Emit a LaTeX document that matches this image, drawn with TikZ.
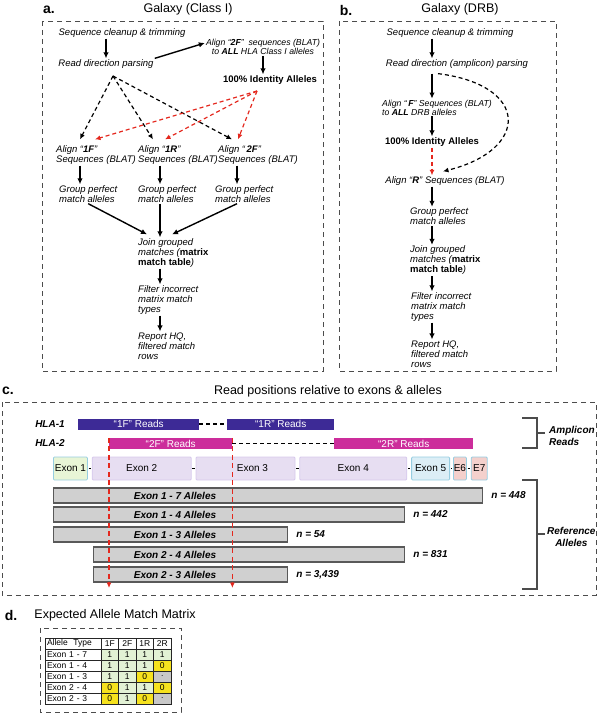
\documentclass[tikz,border=0pt]{standalone}
\usepackage{fontspec}
\setmainfont{Liberation Sans}
\usetikzlibrary{positioning,calc,arrows.meta}

\definecolor{readblue}{RGB}{61,42,150}
\definecolor{readpink}{RGB}{204,45,155}
\definecolor{cutred}{RGB}{228,40,30}
\definecolor{exlilac}{RGB}{231,222,242}
\definecolor{exlilacb}{RGB}{214,200,236}
\definecolor{exgreen}{RGB}{232,245,214}
\definecolor{excyan}{RGB}{220,238,246}
\definecolor{exedge}{RGB}{150,205,225}
\definecolor{expink}{RGB}{244,208,204}
\definecolor{allelegray}{RGB}{208,208,208}
\definecolor{mgreen}{RGB}{226,241,212}
\definecolor{myellow}{RGB}{246,226,30}
\definecolor{mgray}{RGB}{200,200,200}

\newcommand{\flowfont}{\fontsize{9.5}{10}\selectfont\itshape}
\newcommand{\smallflow}{\fontsize{8.7}{9}\selectfont\itshape}
\newcommand{\cellfont}{\fontsize{8.5}{9}\selectfont}

\tikzset{
  flow/.style={font=\flowfont, align=left, inner sep=1pt},
  hit/.style={font=\fontsize{9.5}{10}\selectfont\bfseries, inner sep=1pt},
  ttl/.style={font=\fontsize{12.5}{14}\selectfont},
  panel/.style={font=\fontsize{14}{16}\selectfont\bfseries},
  frame/.style={draw=gray!60!black, line width=0.8pt, dash pattern=on 5pt off 4pt},
  arr/.style={-{Latex[length=6pt,width=5.5pt]}, line width=1.4pt},
  darr/.style={-{Latex[length=5.5pt,width=5pt]}, line width=1.2pt, dash pattern=on 4pt off 3pt},
  rarr/.style={darr, cutred},
  lbl/.style={font=\fontsize{10}{12}\selectfont\bfseries\itshape, inner sep=1pt},
  rdbar/.style={minimum height=11pt, inner sep=0pt, text=white, anchor=west,
    font=\fontsize{10}{12}\selectfont},
  link/.style={line width=1.3pt, dash pattern=on 4pt off 3pt},
  exon/.style={rounded corners=1pt, minimum height=23pt, inner sep=0pt, anchor=west,
    line width=0.8pt, font=\fontsize{10}{12}\selectfont},
  intron/.style={line width=1.2pt, shorten <=0.8pt, shorten >=0.8pt},
  allele/.style={draw=black!65, fill=allelegray, line width=1.2pt, minimum height=15pt,
    inner sep=0pt, anchor=west},
  brk/.style={draw=gray!60!black, line width=1.2pt},
  mcell/.style={draw=black!85, line width=0.6pt, minimum width=17.5pt, minimum height=11pt,
    inner sep=0pt, font=\cellfont},
  rowhead/.style={draw=black!85, line width=0.6pt, text width=52pt, align=left,
    minimum height=11pt, inner xsep=2pt, inner ysep=0pt, font=\cellfont, fill=white},
  m1/.style={fill=mgreen, node contents=1},
  m0/.style={fill=myellow, node contents=0},
  md/.style={fill=mgray, node contents=.}
}

\begin{document}
\begin{tikzpicture}[x=1pt, y=-1pt]
  \useasboundingbox (0,0) rectangle (600,714);

  % titles
  \node[panel] (la) at (49,10) {a.};
  \node[ttl] (ta) at (188,9) {Galaxy (Class I)};
  \node[panel] (lb) at (346,10) {b.};
  \node[ttl] (tb) at (460,9) {Galaxy (DRB)};
  \node[panel] (lc) at (8,391) {c.};
  \node[ttl] (tc) at (328,391) {Read positions relative to exons \& alleles};
  \node[panel] (ld) at (11,615) {d.};
  \node[ttl] (td) at (115,615) {Expected Allele Match Matrix};

  \draw[frame] (42,21) rectangle (323,371);
  \draw[frame] (339,21) rectangle (556,371);
  \draw[frame] (2,402) rectangle (596,595);
  \draw[frame] (40,628) rectangle (181,712);

  % a. Galaxy (Class I)
  \coordinate (ac1) at (80,0);
  \coordinate (ac2) at (160,0);
  \coordinate (ac3) at (237,0);
  \node[flow] (aseq) at (122,33) {Sequence cleanup \& trimming};
  \node[flow] (aread) at (106,64) {Read direction parsing};
  \node[flow, align=center, font=\smallflow] (a2fall) at (263,47)
    {Align “\textbf{2F}”\ \ sequences (BLAT)\\to \textbf{ALL} HLA Class I alleles};
  \node[hit] (aid) at (270,80) {100\% Identity Alleles};
  \node[flow, anchor=west] (a1f) at (55,155) {Align “\textbf{1F}”\\Sequences (BLAT)};
  \node[flow, anchor=west] (a1r) at (137,155) {Align “\textbf{1R}”\\Sequences (BLAT)};
  \node[flow, anchor=west] (a2f) at (217,155) {Align “\,\textbf{2F}”\\Sequences (BLAT)};
  \node[flow, anchor=west] (ag1) at (58,194) {Group perfect\\match alleles};
  \node[flow, anchor=west] (ag2) at (137,194) {Group perfect\\match alleles};
  \node[flow, anchor=west] (ag3) at (214,194) {Group perfect\\match alleles};
  \node[flow, anchor=west] (ajoin) at (137,253)
    {Join grouped\\matches (\textbf{\upshape matrix}\\\textbf{\upshape match table})};
  \node[flow, anchor=west] (afilt) at (137,300) {Filter incorrect\\matrix match\\types};
  \node[flow, anchor=west] (arep) at (137,346) {Report HQ,\\filtered match\\rows};
  \coordinate (asplit) at (113,76);
  \coordinate (ahit) at (257,91);

  \draw[arr] (aseq.south -| aread) -- (aread.north);
  \draw[arr] (aread.north east) -- ($(a2fall.west)+(0,-4)$);
  \draw[arr] (a2fall.south) -- (a2fall.south |- aid.north);
  \draw[darr] (asplit) -- ($(a1f.north -| ac1)+(0,-5)$);
  \draw[darr] (asplit) -- ($(a1r.north -| ac2)+(-7,-5)$);
  \draw[darr] (asplit) -- ($(a2f.north -| ac3)+(-5,-5)$);
  \draw[rarr] (ahit) -- ($(a1f.north -| ac1)+(15,-5)$);
  \draw[rarr] (ahit) -- ($(a1r.north -| ac2)+(5,-5)$);
  \draw[rarr] (ahit) -- ($(a2f.north -| ac3)+(1,-5)$);
  \draw[arr] (a1f.south -| ac1) -- (ag1.north -| ac1);
  \draw[arr] (a1r.south -| ac2) -- (ag2.north -| ac2);
  \draw[arr] (a2f.south -| ac3) -- (ag3.north -| ac3);
  \draw[arr] (ag1.south) -- ($(ajoin.north west)+(10,-3)$);
  \draw[arr] (ag2.south -| ac2) -- (ajoin.north -| ac2);
  \draw[arr] (ag3.south -| ac3) -- ($(ajoin.north -| ac2)+(12,-3)$);
  \draw[arr] (ajoin.south -| ac2) -- (afilt.north -| ac2);
  \draw[arr] (afilt.south -| ac2) -- (arep.north -| ac2);

  % b. Galaxy (DRB)
  \coordinate (bc) at (432,0);
  \node[flow] (bseq) at (450,33) {Sequence cleanup \& trimming};
  \node[flow] (bread) at (457,64) {Read direction (amplicon) parsing};
  \node[flow, anchor=west, font=\smallflow] (balign) at (381,107.5)
    {Align “\,\textbf{F}” Sequences (BLAT)\\to \textbf{ALL} DRB alleles};
  \node[hit] (bid) at (432,142) {100\% Identity Alleles};
  \node[flow] (balr) at (445,181) {Align “\textbf{R}” Sequences (BLAT)};
  \node[flow, anchor=west] (bgrp) at (409,216.5) {Group perfect\\match alleles};
  \node[flow, anchor=west] (bjoin) at (409,260.5)
    {Join grouped\\matches (\textbf{\upshape matrix}\\\textbf{\upshape match table})};
  \node[flow, anchor=west] (bfilt) at (410,307) {Filter incorrect\\matrix match\\types};
  \node[flow, anchor=west] (brep) at (410,354) {Report HQ,\\filtered match\\rows};

  \draw[arr] (bseq.south -| bc) -- (bread.north -| bc);
  \draw[arr] ($(bread.south -| bc)+(0,4)$) -- (balign.north -| bc);
  \draw[arr] (balign.south -| bc) -- (bid.north -| bc);
  \draw[rarr] (bid.south -| bc) -- (balr.north -| bc);
  \draw[darr] ($(bread.south)+(-19,4)$) .. controls (530,85) and (530,150) .. ($(balr.north)+(-2,-4)$);
  \draw[arr] (balr.south -| bc) -- (bgrp.north -| bc);
  \draw[arr] (bgrp.south -| bc) -- (bjoin.north -| bc);
  \draw[arr] (bjoin.south -| bc) -- (bfilt.north -| bc);
  \draw[arr] (bfilt.south -| bc) -- (brep.north -| bc);

  % c. reads, exons, alleles
  \node[lbl] (hla1) at (50,424) {HLA-1};
  \node[lbl] (hla2) at (50,443.5) {HLA-2};
  \node[rdbar, fill=readblue, minimum width=121pt] (r1f) at (78,424) {“1F” Reads};
  \node[rdbar, fill=readblue, minimum width=107pt] (r1r) at (227,424) {“1R” Reads};
  \node[rdbar, fill=readpink, minimum width=123pt] (r2f) at (109,443.5) {“2F” Reads};
  \node[rdbar, fill=readpink, minimum width=139pt] (r2r) at (334,443.5) {“2R” Reads};
  \draw[link] (r1f.east) -- (r1r.west);
  \draw[link] (r2f.east) -- (r2r.west);

  \node[exon, fill=exgreen, draw=exedge, minimum width=34pt] (ex1) at (53,468.5) {Exon 1};
  \node[exon, fill=exlilac, draw=exlilacb, minimum width=99pt, right=4pt of ex1] (ex2) {Exon 2};
  \node[exon, fill=exlilac, draw=exlilacb, minimum width=99pt, right=4pt of ex2] (ex3) {\hspace{14pt}Exon 3};
  \node[exon, fill=exlilac, draw=exlilacb, minimum width=107pt, right=4pt of ex3] (ex4) {Exon 4};
  \node[exon, fill=excyan, draw=exedge, minimum width=38pt, right=4pt of ex4] (ex5) {Exon 5};
  \node[exon, fill=expink, draw=exedge, minimum width=13pt, right=3pt of ex5] (ex6) {E6};
  \node[exon, fill=expink, draw=exedge, minimum width=16pt, right=4pt of ex6] (ex7) {E7};
  \draw[intron] (ex1.east) -- (ex2.west);
  \draw[intron] (ex2.east) -- (ex3.west);
  \draw[intron] (ex3.east) -- (ex4.west);
  \draw[intron] (ex4.east) -- (ex5.west);
  \draw[intron] (ex5.east) -- (ex6.west);
  \draw[intron] (ex6.east) -- (ex7.west);

  \node[allele, minimum width=429pt] (b17) at (53,495.5) {};
  \node[allele, minimum width=351pt] (b14) at (53,514.5) {};
  \node[allele, minimum width=234pt] (b13) at (53,534.5) {};
  \node[allele, minimum width=311pt] (b24) at (93,554.5) {};
  \node[allele, minimum width=194pt] (b23) at (93,574.5) {};
  \node[lbl] (l17) at (175,495.5) {Exon 1 - 7 Alleles};
  \node[lbl] (l14) at (175,514.5) {Exon 1 - 4 Alleles};
  \node[lbl] (l13) at (175,534.5) {Exon 1 - 3 Alleles};
  \node[lbl] (l24) at (175,554.5) {Exon 2 - 4 Alleles};
  \node[lbl] (l23) at (175,574.5) {Exon 2 - 3 Alleles};
  \node[lbl, right=7pt of b17] (n17) {n = 448};
  \node[lbl, right=7pt of b14] (n14) {n = 442};
  \node[lbl, right=7pt of b13] (n13) {n = 54};
  \node[lbl, right=7pt of b24] (n24) {n = 831};
  \node[lbl, right=7pt of b23] (n23) {n = 3,439};

  \coordinate (cbot) at (0,588);
  \draw[rarr, dash pattern=on 5pt off 3.5pt] (r2f.north west) -- (r2f.north west |- cbot);
  \draw[rarr, dash pattern=on 5pt off 3.5pt] (r2f.north east) -- (r2f.north east |- cbot);

  \draw[brk] (522,418) -- (537,418) -- (537,448) -- (522,448) (537,433) -- (545,433);
  \draw[brk] (522,480) -- (537,480) -- (537,589) -- (522,589) (537,534) -- (545,534);
  \node[lbl, align=left, anchor=west] (amp) at (548,436) {Amplicon\\Reads};
  \node[lbl, align=center, anchor=west] (refal) at (546,537) {Reference\\Alleles};

  % d. match matrix
  \node[rowhead] (hdr) at (73,643.5) {Allele~~Type};
  \foreach \h [count=\c] in {1F,2F,1R,2R}
    \node[mcell, fill=white] (h\c) at (92.25+17.5*\c,643.5) {\h};
  \foreach \lab/\ma/\mb/\mc/\md [count=\r] in {Exon 1 - 7/m1/m1/m1/m1, Exon 1 - 4/m1/m1/m1/m0,
      Exon 1 - 3/m1/m1/m0/md, Exon 2 - 4/m0/m1/m1/m0, Exon 2 - 3/m0/m1/m0/md} {
    \node[rowhead] (row\r) at (73,643.5+11*\r) {\lab};
    \foreach \v [count=\c] in {\ma,\mb,\mc,\md}
      \node[mcell] at (92.25+17.5*\c,643.5+11*\r) [\v];
  }
\end{tikzpicture}
\end{document}
